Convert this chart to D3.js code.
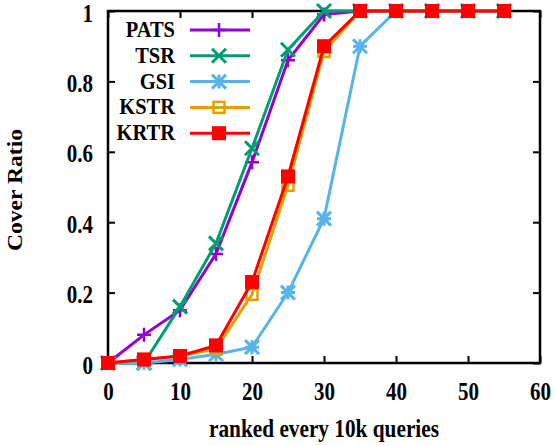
<!DOCTYPE html>
<html>
<head>
<meta charset="utf-8">
<script src="https://cdn.jsdelivr.net/npm/d3@7"></script>
<style>
  body { margin: 0; background: #fff; }
</style>
</head>
<body>
<div id="chart"></div>
<script>
// data
var xValues = [0, 5, 10, 15, 20, 25, 30, 35, 40, 45, 50, 55];
var pats = [0, 0.08, 0.15, 0.31, 0.57, 0.86, 0.99, 1, 1, 1, 1, 1];
var tsr  = [0, 0, 0.16, 0.34, 0.61, 0.89, 1, 1, 1, 1, 1, 1];
var gsi  = [0, 0, 0.01, 0.025, 0.045, 0.2, 0.41, 0.9, 1, 1, 1, 1];
var kstr = [0, 0.01, 0.02, 0.04, 0.195, 0.505, 0.885, 1, 1, 1, 1, 1];
var krtr = [0, 0.01, 0.02, 0.05, 0.23, 0.53, 0.9, 1, 1, 1, 1, 1];
var seriesNames = ["PATS", "TSR", "GSI", "KSTR", "KRTR"];
var xTicks = [0, 10, 20, 30, 40, 50, 60];
var yTicks = [0, 0.2, 0.4, 0.6, 0.8, 1];

var FONT = "Liberation Serif";
var BASE = 24;          // render text at 24px, then scale it down
var stretch = 1.15;     // text in the picture looks a bit taller than wide

// scale() string for a wanted font size
function sc(size, rotated) {
    var k = size / BASE;
    return rotated ? `scale(${k * stretch}, ${k})` : `scale(${k}, ${k * stretch})`;
}

var svgWidth = 555, svgHeight = 446;
var margin = { top: 11, right: 15, bottom: 83, left: 108 };
var width = svgWidth - margin.left - margin.right;
var height = svgHeight - margin.top - margin.bottom;

var svg = d3.select("#chart").append("svg")
    .attr("width", svgWidth)
    .attr("height", svgHeight);

var chartGroup = svg.append("g")
    .attr("transform", `translate(${margin.left}, ${margin.top})`);

var xScale = d3.scaleLinear().domain([0, 60]).range([0, width]);
var yScale = d3.scaleLinear().domain([0, 1]).range([height, 0]);

var series = [
    { name: "PATS", values: pats, color: "#9400d3", marker: "plus" },
    { name: "TSR",  values: tsr,  color: "#009e73", marker: "cross" },
    { name: "GSI",  values: gsi,  color: "#56b4e9", marker: "star" },
    { name: "KSTR", values: kstr, color: "#e69f00", marker: "square" },
    { name: "KRTR", values: krtr, color: "#ff0000", marker: "fsquare" }
];

// axes with inward ticks, mirrored on top/right
var tickLen = 7;
function fmtY(d) { return d === 0 ? "0" : d === 1 ? "1" : d3.format(".1f")(d); }

var xAxis = chartGroup.append("g")
    .attr("transform", `translate(0, ${height})`)
    .call(d3.axisBottom(xScale).tickValues(xTicks).tickSizeInner(-tickLen).tickSizeOuter(0));
var xTop = chartGroup.append("g")
    .call(d3.axisTop(xScale).tickValues(xTicks).tickSizeInner(-tickLen).tickSizeOuter(0).tickFormat(""));
var yAxis = chartGroup.append("g")
    .call(d3.axisLeft(yScale).tickValues(yTicks).tickSizeInner(-tickLen).tickSizeOuter(0).tickFormat(fmtY));
var yRight = chartGroup.append("g")
    .attr("transform", `translate(${width}, 0)`)
    .call(d3.axisRight(yScale).tickValues(yTicks).tickSizeInner(-tickLen).tickSizeOuter(0).tickFormat(""));

[xAxis, xTop, yAxis, yRight].forEach(function(ax) {
    ax.attr("font-family", FONT).attr("font-size", BASE);
    ax.select(".domain").remove();
    ax.selectAll("line").attr("stroke", "#000").attr("stroke-width", 2);
    ax.selectAll("text").attr("font-size", BASE).attr("fill", "#000")
        .attr("font-family", FONT).attr("font-weight", "bold")
        .attr("x", 0).attr("y", 0).attr("dy", 0);
});
xAxis.selectAll("text")
    .attr("text-anchor", "middle")
    .attr("transform", `translate(0, 37) ${sc(21)}`);
yAxis.selectAll("text")
    .attr("text-anchor", "end")
    .attr("transform", `translate(-15, 10) ${sc(21)}`);

// frame
chartGroup.append("rect")
    .attr("x", 0).attr("y", 0)
    .attr("width", width).attr("height", height)
    .attr("fill", "none").attr("stroke", "#000").attr("stroke-width", 2.5);

// markers
function drawMarker(g, type, color, cx, cy) {
    var s = 7;
    if (type === "plus") {
        g.append("path").attr("d", `M${cx - s},${cy}H${cx + s}M${cx},${cy - s}V${cy + s}`)
            .attr("stroke", color).attr("stroke-width", 2.5).attr("fill", "none");
    } else if (type === "cross") {
        g.append("path").attr("d", `M${cx - s},${cy - s}L${cx + s},${cy + s}M${cx - s},${cy + s}L${cx + s},${cy - s}`)
            .attr("stroke", color).attr("stroke-width", 3).attr("fill", "none");
    } else if (type === "star") {
        g.append("path").attr("d", `M${cx - s},${cy}H${cx + s}M${cx},${cy - s}V${cy + s}M${cx - s},${cy - s}L${cx + s},${cy + s}M${cx - s},${cy + s}L${cx + s},${cy - s}`)
            .attr("stroke", color).attr("stroke-width", 3).attr("fill", "none");
    } else if (type === "square") {
        g.append("rect").attr("x", cx - 5.5).attr("y", cy - 5.5).attr("width", 11).attr("height", 11)
            .attr("stroke", color).attr("stroke-width", 2.5).attr("fill", "none");
    } else {
        g.append("rect").attr("x", cx - 7).attr("y", cy - 7).attr("width", 14).attr("height", 14)
            .attr("fill", color);
    }
}

var line = d3.line()
    .x(function(d, i) { return xScale(xValues[i]); })
    .y(function(d) { return yScale(d); });

var plotG = chartGroup.append("g");
series.forEach(function(s) {
    var g = plotG.append("g");
    g.append("path")
        .datum(s.values)
        .attr("d", line)
        .attr("fill", "none")
        .attr("stroke", s.color)
        .attr("stroke-width", 3);
    s.values.forEach(function(v, i) {
        drawMarker(g, s.marker, s.color, xScale(xValues[i]), yScale(v));
    });
});

// legend
var legend = svg.append("g");
series.forEach(function(s, i) {
    var y = 30 + i * 25.8;
    legend.append("text")
        .attr("transform", `translate(175, ${y + 7}) ${sc(20.5)}`)
        .attr("text-anchor", "end")
        .attr("font-family", FONT)
        .attr("font-weight", "bold")
        .attr("font-size", BASE)
        .text(seriesNames[i]);
    legend.append("line")
        .attr("x1", 190).attr("x2", 250)
        .attr("y1", y).attr("y2", y)
        .attr("stroke", s.color).attr("stroke-width", 3);
    drawMarker(legend, s.marker, s.color, 219, y);
});

// axis titles
svg.append("text")
    .attr("transform", `translate(${margin.left + width / 2}, 437) ${sc(21.3)}`)
    .attr("text-anchor", "middle")
    .attr("font-family", FONT)
    .attr("font-weight", "bold")
    .attr("font-size", BASE)
    .text("ranked every 10k queries");

svg.append("text")
    .attr("transform", `translate(22, 190) rotate(-90) ${sc(20.5, true)}`)
    .attr("text-anchor", "middle")
    .attr("font-family", FONT)
    .attr("font-weight", "bold")
    .attr("font-size", BASE)
    .text("Cover Ratio");
</script>
</body>
</html>
